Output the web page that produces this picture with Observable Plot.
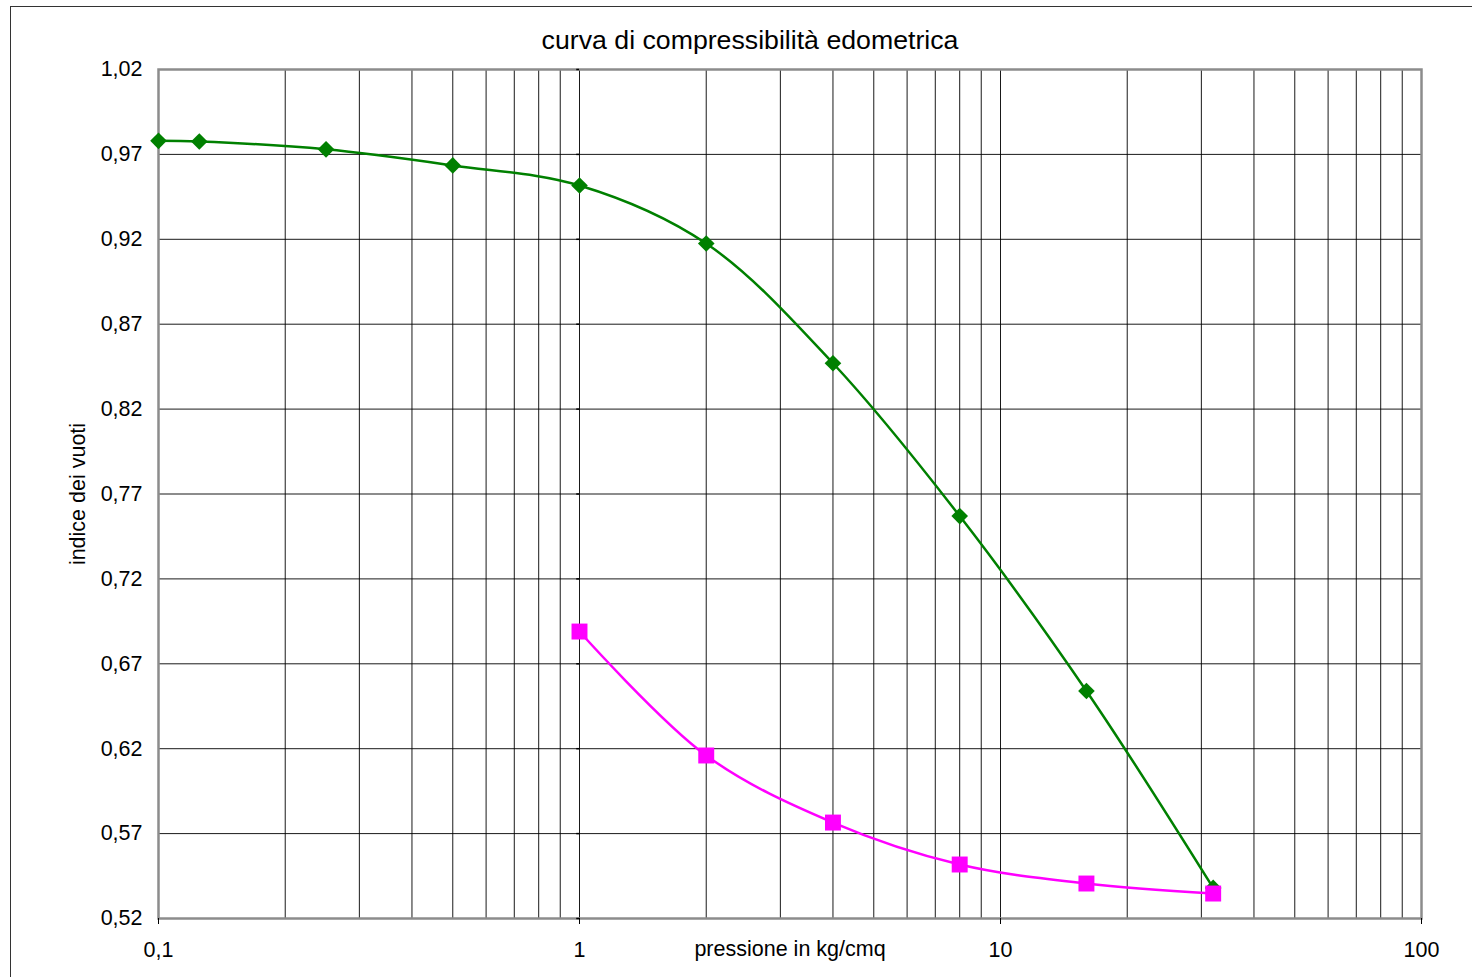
<!DOCTYPE html>
<html>
<head>
<meta charset="utf-8">
<script src="https://cdn.jsdelivr.net/npm/d3@7"></script>
<script src="https://cdn.jsdelivr.net/npm/@observablehq/plot@0.6"></script>
<style>
  html, body { margin: 0; padding: 0; background: #fff; overflow: hidden; width: 1472px; height: 977px; }
  #border { position: absolute; left: 10px; top: 6px; width: 1500px; height: 1000px; border: 1.5px solid #333; box-sizing: border-box; }
  #chart { position: absolute; left: 0; top: 0; }
</style>
</head>
<body>
<div id="border"></div>
<div id="chart"></div>
<script>
// Data
const titleText = "curva di compressibilità edometrica";
const xLabel = "pressione in kg/cmq";
const yLabel = "indice dei vuoti";

const pressLoad = [0.1, 0.125, 0.25, 0.5, 1, 2, 4, 8, 16, 32];
const voidLoad  = [0.978, 0.9776, 0.973, 0.9635, 0.9517, 0.9175, 0.847, 0.757, 0.654, 0.538];

const pressUnload = [1, 2, 4, 8, 16, 32];
const voidUnload  = [0.689, 0.616, 0.5765, 0.5518, 0.5406, 0.5347];

const yTicks = [0.52, 0.57, 0.62, 0.67, 0.72, 0.77, 0.82, 0.87, 0.92, 0.97, 1.02];
const xTicks = [0.1, 1, 10, 100];
const xTickLabels = ["0,1", "1", "10", "100"];
const xGrid = [0.2,0.3,0.4,0.5,0.6,0.7,0.8,0.9,1,2,3,4,5,6,7,8,9,10,20,30,40,50,60,70,80,90];

const loadData = pressLoad.map((p, i) => ({p, e: voidLoad[i]}));
const unloadData = pressUnload.map((p, i) => ({p, e: voidUnload[i]}));

const chart = Plot.plot({
  width: 1472,
  height: 977,
  marginLeft: 158,
  marginRight: 51,
  marginTop: 69,
  marginBottom: 59,
  style: { fontFamily: "'Liberation Sans', Arial, sans-serif", fontSize: "21.5px", color: "#000", background: "transparent" },
  x: { type: "log", domain: [0.1, 100] },
  y: { domain: [0.52, 1.02] },
  marks: [
    Plot.ruleX(xGrid, { stroke: "#000", strokeWidth: 1, strokeOpacity: 0.9 }),
    Plot.ruleY(yTicks.slice(1, -1), { stroke: "#000", strokeWidth: 1, strokeOpacity: 0.9 }),
    Plot.frame({ stroke: "#8c8c8c", strokeWidth: 2.5 }),
    Plot.ruleY(yTicks, { x1: 0.985, x2: 1, stroke: "#000", strokeWidth: 1.5 }),
    Plot.axisY({ ticks: yTicks, tickFormat: d => d.toFixed(2).replace(".", ","), tickSize: 0, tickPadding: 16, label: null, fontSize: 21.5 }),
    Plot.axisX({ ticks: xTicks, tickFormat: d => xTickLabels[xTicks.indexOf(d)], tickSize: 6, tickPadding: 17, label: null, fontSize: 21.5 }),
    Plot.line(loadData, { x: "p", y: "e", stroke: "#008000", strokeWidth: 2.5, curve: "catmull-rom" }),
    Plot.dot(loadData, { x: "p", y: "e", symbol: "diamond2", r: 7.5, fill: "#008000", stroke: "none" }),
    Plot.line(unloadData, { x: "p", y: "e", stroke: "#ff00ff", strokeWidth: 2.5, curve: "catmull-rom" }),
    Plot.dot(unloadData, { x: "p", y: "e", symbol: "square", r: 9, fill: "#ff00ff", stroke: "none" }),
    Plot.text([titleText], { frameAnchor: "top", lineAnchor: "middle", dx: -40, dy: -29, fontSize: 26.7 }),
    Plot.text([yLabel], { frameAnchor: "left", textAnchor: "middle", lineAnchor: "middle", dx: -80, rotate: -90, fontSize: 21.5 }),
    Plot.text([xLabel], { frameAnchor: "bottom", lineAnchor: "middle", dy: 31, fontSize: 21.5 })
  ]
});
document.getElementById("chart").appendChild(chart);
</script>
</body>
</html>
